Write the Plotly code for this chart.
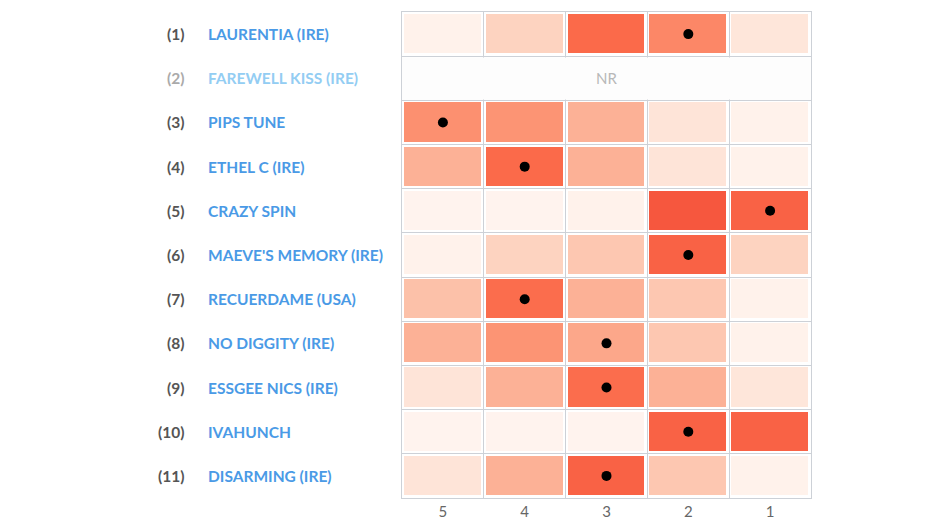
import plotly.graph_objects as go

# ---------------- data ----------------
columns = ["5", "4", "3", "2", "1"]
numbers = ["(1)", "(2)", "(3)", "(4)", "(5)", "(6)", "(7)", "(8)", "(9)", "(10)", "(11)"]
horses = ["LAURENTIA (IRE)", "FAREWELL KISS (IRE)", "PIPS TUNE", "ETHEL C (IRE)",
          "CRAZY SPIN", "MAEVE'S MEMORY (IRE)", "RECUERDAME (USA)", "NO DIGGITY (IRE)",
          "ESSGEE NICS (IRE)", "IVAHUNCH", "DISARMING (IRE)"]
non_runner = [False, True, False, False, False, False, False, False, False, False, False]
# cell intensity (0-100) per row, columns ordered 5,4,3,2,1 ; None = non-runner
values = [
    [2, 17, 50, 41, 9],
    None,
    [38, 37, 28, 10, 2],
    [28, 50, 28, 10, 2],
    [1, 1, 2, 55, 52],
    [2, 17, 21, 52, 17],
    [23, 49, 28, 21, 2],
    [28, 37, 31, 21, 2],
    [10, 28, 49, 28, 9],
    [1, 1, 1, 52, 52],
    [10, 28, 52, 21, 2],
]
# column holding the dot for each row (None = no dot)
dot_pick = ["2", None, "5", "4", "1", "2", "4", "3", "3", "2", "3"]

# ---------------- styles ----------------
reds = ["rgb(255,245,240)", "rgb(254,224,210)", "rgb(252,187,161)", "rgb(252,146,114)",
        "rgb(251,106,74)", "rgb(239,59,44)", "rgb(203,24,29)", "rgb(165,15,21)", "rgb(103,0,13)"]
colorscale = [[i / (len(reds) - 1), c] for i, c in enumerate(reds)]
grid_color = "#cdd1d7"
font_family = "Lato"

n_rows = len(horses)
n_cols = len(columns)
xs = list(range(n_cols))
ys = list(range(n_rows))

z = [row if row is not None else [None] * n_cols for row in values]

fig = go.Figure()
fig.add_trace(go.Heatmap(
    z=z, x=xs, y=ys, colorscale=colorscale, zmin=0, zmax=100,
    xgap=5, ygap=5, showscale=False, hoverinfo="skip",
))

# merged non-runner rows
for i, nr in enumerate(non_runner):
    if nr:
        fig.add_trace(go.Heatmap(
            z=[[0]], x=[-0.5, n_cols - 0.5], y=[i - 0.47, i + 0.47],
            colorscale=[[0, "#fdfdfd"], [1, "#fdfdfd"]], showscale=False, hoverinfo="skip",
        ))
        fig.add_annotation(x=(n_cols - 1) / 2, y=i, text="NR", showarrow=False,
                           font=dict(family=font_family, size=15, color="#b8b8b8"))

dot_x = [columns.index(d) for d in dot_pick if d is not None]
dot_y = [i for i, d in enumerate(dot_pick) if d is not None]
fig.add_trace(go.Scatter(x=dot_x, y=dot_y, mode="markers",
                         marker=dict(color="black", size=10), hoverinfo="skip"))

for i in range(n_rows):
    nr = non_runner[i]
    fig.add_annotation(x=0, xref="paper", y=i, yref="y", text="<b>%s</b>" % numbers[i],
                       showarrow=False, xanchor="right", xshift=-215,
                       font=dict(family=font_family, size=15.5, color="#aaaaaa" if nr else "#555555"))
    fig.add_annotation(x=0, xref="paper", y=i, yref="y", text="<b>%s</b>" % horses[i],
                       showarrow=False, xanchor="left", xshift=-196,
                       font=dict(family=font_family, size=15.5, color="#93cdf3" if nr else "#4a9ae6"))

fig.update_xaxes(
    range=[-0.5, n_cols - 0.5], tickvals=xs, ticktext=columns, showgrid=False,
    zeroline=False, ticks="", tickfont=dict(family=font_family, size=15, color="#666666"),
    showline=True, linecolor=grid_color, linewidth=1, mirror=True,
    minor=dict(tickvals=[c + 0.5 for c in xs[:-1]], showgrid=True, gridcolor=grid_color, gridwidth=1),
)
fig.update_yaxes(
    range=[n_rows - 0.5, -0.5], showticklabels=False, showgrid=False, zeroline=False, ticks="",
    showline=True, linecolor=grid_color, linewidth=1, mirror=True,
    minor=dict(tickvals=[r + 0.5 for r in ys[:-1]], showgrid=True, gridcolor=grid_color, gridwidth=1),
)
fig.update_layout(
    width=945, height=532, margin=dict(l=394, r=142, t=4, b=42),
    plot_bgcolor="white", paper_bgcolor="white", showlegend=False,
    font=dict(family=font_family),
)
fig.write_html("out.html")
